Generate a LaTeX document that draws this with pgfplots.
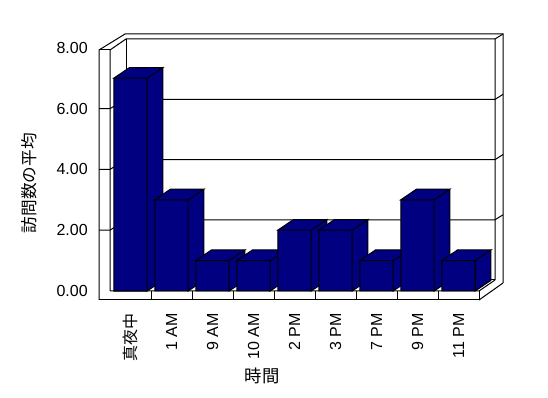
\documentclass[border=0pt]{standalone}
\usepackage{fontspec}
\setmainfont{Liberation Sans}
\newfontfamily\jp{Noto Sans CJK JP}
\usepackage{pgfplots}
\pgfplotsset{compat=1.18}
\definecolor{barnavy}{RGB}{0,0,128}

% 3D bar mark: origin = top-centre of the bar front face
\pgfdeclareplotmark{bar3d}{%
  \pgfmathsetlengthmacro\hh{\barval*22.8pt}%
  \def\wt{12.56pt}\def\dx{11.8pt}\def\dy{8pt}%
  % front
  \pgfpathmoveto{\pgfpoint{-\wt}{0pt}}%
  \pgfpathlineto{\pgfpoint{\wt}{0pt}}%
  \pgfpathlineto{\pgfpoint{\wt}{-\hh}}%
  \pgfpathlineto{\pgfpoint{-\wt}{-\hh}}%
  \pgfpathclose
  % top
  \pgfpathmoveto{\pgfpoint{-\wt}{0pt}}%
  \pgfpathlineto{\pgfpointadd{\pgfpoint{-\wt}{0pt}}{\pgfpoint{\dx}{\dy}}}%
  \pgfpathlineto{\pgfpointadd{\pgfpoint{\wt}{0pt}}{\pgfpoint{\dx}{\dy}}}%
  \pgfpathlineto{\pgfpoint{\wt}{0pt}}%
  \pgfpathclose
  % side
  \pgfpathmoveto{\pgfpoint{\wt}{0pt}}%
  \pgfpathlineto{\pgfpointadd{\pgfpoint{\wt}{0pt}}{\pgfpoint{\dx}{\dy}}}%
  \pgfpathlineto{\pgfpointadd{\pgfpoint{\wt}{-\hh}}{\pgfpoint{\dx}{\dy}}}%
  \pgfpathlineto{\pgfpoint{\wt}{-\hh}}%
  \pgfpathclose
  \pgfusepath{fill,stroke}%
}

\begin{document}
\begin{tikzpicture}
% pixel frame: (px,py) of the 548x398 reference
\begin{scope}[x=0.75pt,y=-0.75pt,shift={(-82.5pt,218.25pt)}]
\useasboundingbox (0,0) rectangle (548,398);
\end{scope}
\begin{scope}[x=0.75pt,y=-0.75pt,shift={(-82.5pt,218.25pt)},line width=0.75pt,black]
  % left wall + back wall inner edges
  \draw (110,291) -- (110,50) -- (126,39) -- (495,39) -- (495,280);
  \draw (126,39) -- (126,280) -- (495,280);
  % outer silhouette
  \draw (99,300) -- (99,50) -- (125,34) -- (503,34) -- (503,283);
  \draw (99,50) -- (110,50);
  \draw (495,39) -- (503,34);
  % gridlines (front tick, wall diagonal, back wall, side)
  \foreach \v in {2,4,6}{
    \pgfmathsetmacro\fy{291-30.4*\v}
    \pgfmathsetmacro\by{280-30.1*\v}
    \draw (99,\fy) -- (110,\fy) -- (126,\by) -- (495,\by) -- (503,\by-5);
  }
  % floor slab
  \draw (99,300) -- (479,300) -- (479,291);
  \draw (110,291) -- (479,291) -- (495,280);
  \draw (479,300) -- (503,283);
  \foreach \k in {1,...,8}{
    \draw (110+41*\k,291) -- (110+41*\k,300);
  }
\end{scope}

\begin{axis}[
  at={(0pt,0pt)}, anchor=south west,
  scale only axis, width=276.75pt, height=182.4pt,
  xmin=-0.5, xmax=8.5, ymin=0, ymax=8,
  clip=false,
  axis line style={draw=none},
  major tick length=0pt,
  xtick={0,...,8},
  xticklabels={{\jp 真夜中},1 AM,9 AM,10 AM,2 PM,3 PM,7 PM,9 PM,11 PM},
  ytick={0,2,4,6,8},
  /pgf/number format/assume math mode=true,
  yticklabel style={/pgf/number format/fixed,/pgf/number format/fixed zerofill,/pgf/number format/precision=2,
    anchor=east, inner sep=0pt, xshift=-16.5pt},
  xticklabel style={rotate=90, anchor=east, inner sep=0pt},
  xticklabel shift=16.5pt,
  tick label style={font=\fontsize{12}{14}\selectfont},
  ylabel={\jp 訪問数の平均},
  xlabel={\jp 時間},
  every axis y label/.style={at={(axis description cs:-0.2195,0.444)}, rotate=90, anchor=center, font=\fontsize{12.5}{14}\selectfont},
  every axis x label/.style={at={(axis description cs:0.412,-0.3495)}, anchor=center, font=\fontsize{13}{15}\selectfont},
]
\addplot[only marks, mark=bar3d,
  visualization depends on={rawy \as \barval},
  mark options={fill=barnavy, draw=black, line width=0.75pt}]
  coordinates {(0,7) (1,3) (2,1) (3,1) (4,2) (5,2) (6,1) (7,3) (8,1)};
\end{axis}
\end{tikzpicture}
\end{document}
